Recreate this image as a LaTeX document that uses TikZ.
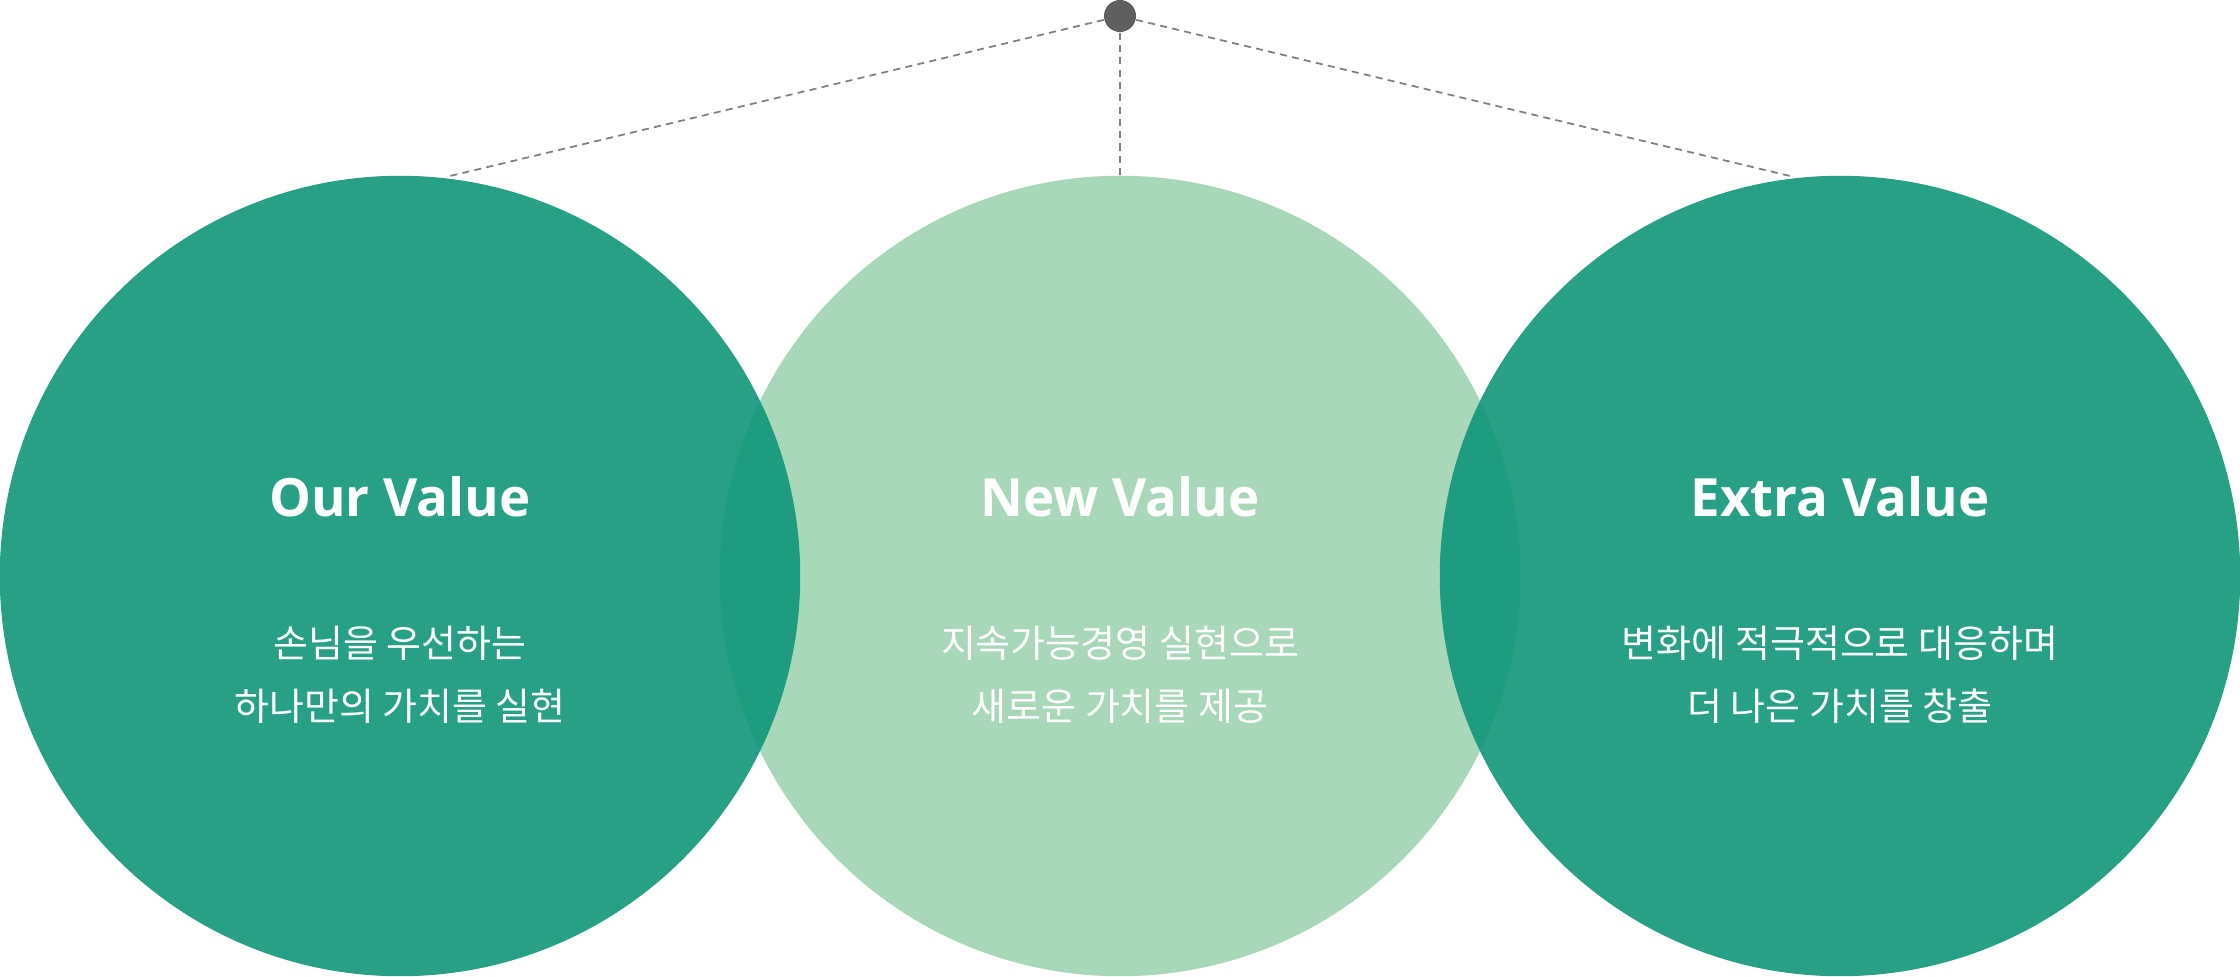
\documentclass[tikz,border=0pt]{standalone}
\usepackage{fontspec}
\setmainfont{Open Sans}
\newfontfamily\kr{Noto Sans CJK KR}
\definecolor{teal}{HTML}{0F9679}
\definecolor{light}{HTML}{A8D8B9}
\definecolor{dotc}{HTML}{5F5F5F}
\begin{document}
\begin{tikzpicture}[x=0.01cm,y=-0.01cm,
  ttl/.style={text=white,font=\fontsize{15}{18}\selectfont\bfseries},
  sub/.style={text=white,font=\kr\fontsize{10.8}{18}\selectfont,align=center},
  dline/.style={draw=gray,line width=0.5pt,dash pattern=on 2pt off 1.5pt}]
\useasboundingbox (0,0) rectangle (2240,976);
\fill[light] (1120,576) circle[radius=4cm];
\fill[teal,opacity=0.9] (400,576) circle[radius=4cm];
\fill[teal,opacity=0.9] (1840,576) circle[radius=4cm];
\coordinate (l) at (450,176);
\coordinate (m) at (1120,176);
\coordinate (r) at (1790,176);
\node[circle,fill=dotc,minimum size=0.32cm,inner sep=0] (dot) at (1120,16) {};
\draw[dline] (dot) -- (l);
\draw[dline] (dot) -- (m);
\draw[dline] (dot) -- (r);
\node[ttl] (t1) at (400,497) {Our Value};
\node[ttl] (t2) at (1120,497) {New Value};
\node[ttl] (t3) at (1840,497) {Extra Value};
\node[sub] (s1) at (400,675) {손님을 우선하는\\하나만의 가치를 실현};
\node[sub] (s2) at (1120,675) {지속가능경영 실현으로\\새로운 가치를 제공};
\node[sub] (s3) at (1840,675) {변화에 적극적으로 대응하며\\더 나은 가치를 창출};
\end{tikzpicture}
\end{document}
